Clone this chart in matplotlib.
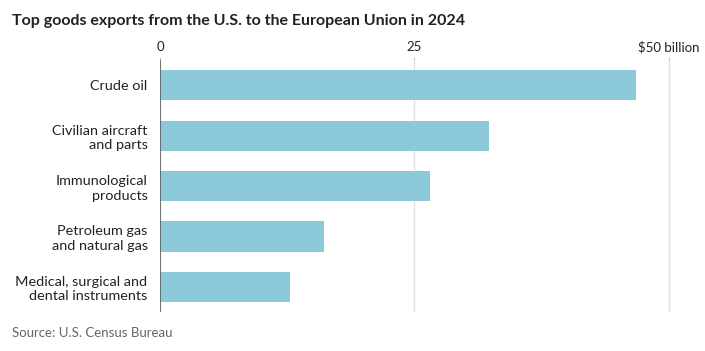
import matplotlib.pyplot as plt

# data (billions of dollars, 2024)
categories = ['Crude oil', 'Civilian aircraft\nand parts', 'Immunological\nproducts',
              'Petroleum gas\nand natural gas', 'Medical, surgical and\ndental instruments']
values = [46.8, 32.3, 26.5, 16.1, 12.8]
ticks = [0, 25, 50]
tick_labels = ['0', '25', '$50 billion']

plt.rcParams['font.family'] = ['Lato', 'DejaVu Sans']

fig = plt.figure(figsize=(7.05, 3.51), dpi=100)
ax = fig.add_axes([0.227, 0.111, 0.736, 0.718])

ypos = list(range(len(categories)))
ax.barh(ypos, values, height=0.6, color='#8cc9d8', zorder=3)

ax.set_xlim(0, 51)
ax.set_ylim(4.5, -0.5)

# eixo x no topo
ax.xaxis.tick_top()
ax.set_xticks(ticks)
ax.set_xticklabels(tick_labels, fontsize=9.5, color='#222222')
ax.tick_params(axis='x', length=2, width=0.6, color='#bbbbbb', pad=3)
ax.set_yticks(ypos)
ax.set_yticklabels(categories, fontsize=10.4, color='#222222', linespacing=1.25)
ax.tick_params(axis='y', length=0, pad=9)

# grades verticais
ax.grid(axis='x', color='#e2e2e2', linewidth=1, zorder=0)
ax.axvline(0, color='#555555', linewidth=1.1, zorder=4)
for s in ax.spines.values():
    s.set_visible(False)

fig.text(0.017, 0.94, 'Top goods exports from the U.S. to the European Union in 2024',
         fontsize=11.5, fontweight='bold', color='#222222', va='center')
fig.text(0.017, 0.052, 'Source: U.S. Census Bureau', fontsize=9.5, color='#666666', va='center')

plt.savefig('out.png', dpi=100)
